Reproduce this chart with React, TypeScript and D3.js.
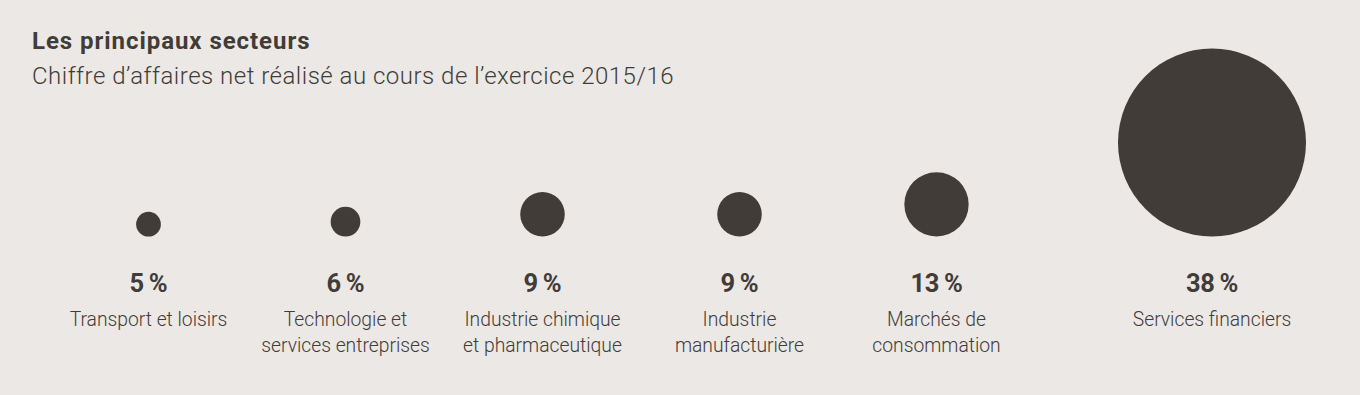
import React from "react";
import * as d3 from "d3";

const title = "Les principaux secteurs";
const subtitle = "Chiffre d\u2019affaires net réalisé au cours de l\u2019exercice 2015/16";
const sectors: string[][] = [
  ["Transport et loisirs"],
  ["Technologie et", "services entreprises"],
  ["Industrie chimique", "et pharmaceutique"],
  ["Industrie", "manufacturière"],
  ["Marchés de", "consommation"],
  ["Services financiers"],
];
const shares: number[] = [5, 6, 9, 9, 13, 38];

const W = 1360;
const H = 395;
const BG = "#ece8e5";
const INK = "#413c38";
const FONT = "Roboto, 'Noto Sans', sans-serif";

export default function App() {
  const r = d3.scaleLinear().domain([0, 38]).range([0, 94]);
  const x = d3
    .scalePoint<number>()
    .domain(d3.range(5))
    .range([148.5, 936.5]);
  const rightMargin = 54;
  const cx = (i: number) =>
    i < 5 ? (x(i) as number) : W - rightMargin - r(shares[i]);
  const baseY = 236.5;

  return (
    <svg
      width={W}
      height={H}
      style={{ position: "absolute", left: 0, top: 0, display: "block" }}
    >
      <rect x={0} y={0} width={W} height={H} fill={BG} />
      <text
        x={32}
        y={49}
        fill={INK}
        fontFamily={FONT}
        fontWeight={700}
        fontSize={24}
        letterSpacing={0.95}
      >
        {title}
      </text>
      <text
        x={32}
        y={83.5}
        fill={INK}
        fontFamily={FONT}
        fontWeight={300}
        fontSize={24}
        letterSpacing={0.5}
      >
        {subtitle}
      </text>
      {shares.map((v, i) => (
        <g key={i}>
          <circle cx={cx(i)} cy={baseY - r(v)} r={r(v)} fill={INK} />
          <text
            x={cx(i)}
            y={292}
            textAnchor="middle"
            fill={INK}
            fontFamily={FONT}
            fontWeight={700}
            fontSize={25.5}
            letterSpacing={-0.3}
          >
            {`${v}\u2009%`}
          </text>
          {sectors[i].map((line, j) => (
            <text
              key={j}
              x={cx(i)}
              y={326 + j * 26}
              textAnchor="middle"
              fill={INK}
              fontFamily={FONT}
              fontWeight={300}
              fontSize={19.3}
            >
              {line}
            </text>
          ))}
        </g>
      ))}
    </svg>
  );
}
